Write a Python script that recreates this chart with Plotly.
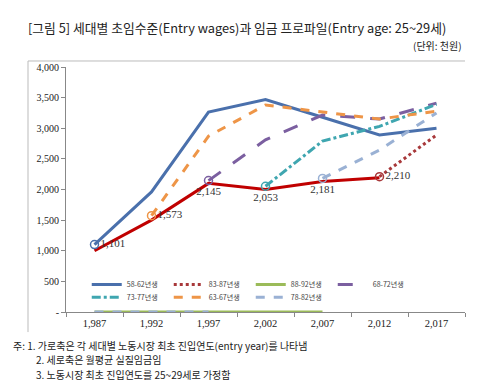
import plotly.graph_objects as go

years = ["1,987", "1,992", "1,997", "2,002", "2,007", "2,012", "2,017"]

s58_62 = [1101, 1960, 3265, 3470, 3180, 2890, 3000]
s63_67 = [None, 1573, 2870, 3380, 3260, 3150, 3280]
s68_72 = [None, None, 2145, 2810, 3215, 3150, 3410]
s73_77 = [None, None, None, 2053, 2790, 3030, 3390]
s78_82 = [0, 0, 0, None, 2181, 2645, 3250]
s83_87 = [None, None, None, None, None, 2210, 2890]
s88_92 = [0, 0, 0, 0, 0, None, None]
entry = [1000, 1500, 2100, 2000, 2130, 2190, None]

ytick_vals = [0, 500, 1000, 1500, 2000, 2500, 3000, 3500, 4000]
ytick_text = ["-", "500", "1,000", "1,500", "2,000", "2,500", "3,000", "3,500", "4,000"]

series = [
    # name, data, color, dash, legend, rank, first index, label position
    ("58-62년생", s58_62, "#4A70AC", "solid", "legend", 1, 0, "middle right"),
    ("83-87년생", s83_87, "#A8383A", "dot", "legend", 2, 5, "middle right"),
    ("88-92년생", s88_92, "#9BBB59", "solid", "legend", 3, None, None),
    ("68-72년생", s68_72, "#7B5FA0", "longdash", "legend", 4, 2, "bottom center"),
    ("73-77년생", s73_77, "#3FA6B0", "dashdot", "legend2", 5, 3, "bottom center"),
    ("63-67년생", s63_67, "#EE9547", "dash", "legend2", 6, 1, "middle right"),
    ("78-82년생", s78_82, "#9AB1D4", "dash", "legend2", 7, 4, "bottom center"),
]

fig = go.Figure()

# entry wages line (red)
fig.add_trace(go.Scatter(x=years, y=entry, mode="lines", line=dict(color="#C00000", width=3),
                         showlegend=False, hoverinfo="skip"))

for name, data, color, dash, lg, rank, first, pos in series:
    fig.add_trace(go.Scatter(x=years, y=data, mode="lines", name=name, legendrank=rank, legend=lg,
                             line=dict(color=color, width=3, dash=dash), connectgaps=False))

for name, data, color, dash, lg, rank, first, pos in series:
    if first is None:
        continue
    v = data[first]
    fig.add_trace(go.Scatter(x=[years[first]], y=[v], mode="markers+text",
                             text=[f"{v:,}"], textposition=pos,
                             textfont=dict(family="Liberation Serif", size=11, color="#333333"),
                             marker=dict(symbol="circle-open", size=8, color=color, line=dict(width=1.5)),
                             showlegend=False, hoverinfo="skip"))

leg_common = dict(orientation="h", xanchor="left", yanchor="top",
                  entrywidth=37, entrywidthmode="pixels", traceorder="normal",
                  font=dict(family="Noto Sans CJK KR", size=7, color="#444444"),
                  bgcolor="rgba(0,0,0,0)", itemwidth=30)

W, H = 492, 376  # page body adds an 8px offset

fig.update_layout(
    width=W, height=H,
    margin=dict(l=58, r=35, t=59, b=72),
    paper_bgcolor="white", plot_bgcolor="white",
    showlegend=True,
    title=dict(text="[그림 5] 세대별 초임수준(Entry wages)과 임금 프로파일(Entry age: 25~29세)",
               xref="container", yref="container", x=20 / W, y=1 - 20.5 / H,
               xanchor="left", yanchor="middle",
               font=dict(family="Noto Sans CJK KR", size=12.8, color="#222222")),
    legend=dict(x=0.052, y=0.171, **leg_common),
    legend2=dict(x=0.052, y=0.119, **leg_common),
    xaxis=dict(type="category", range=[-0.5, 6.5], tickson="boundaries", ticks="outside",
               ticklen=4, tickcolor="#888888", showline=True, linecolor="#888888", linewidth=1,
               showgrid=False, ticklabelstandoff=1,
               tickfont=dict(family="Liberation Serif", size=10.5, color="#222222")),
    yaxis=dict(range=[0, 4000], tickvals=ytick_vals, ticktext=ytick_text, ticks="outside",
               ticklen=4, tickcolor="#888888", showline=True, linecolor="#888888", linewidth=1,
               showgrid=False, zeroline=False,
               tickfont=dict(family="Liberation Serif", size=10, color="#222222")),
)

# chart frame lines (left and top)
fig.add_shape(type="line", xref="paper", yref="paper", x0=-0.0952, x1=1.0, y0=1.0245, y1=1.0245,
              line=dict(color="#BBBBBB", width=1))
fig.add_shape(type="line", xref="paper", yref="paper", x0=-0.0952, x1=-0.0952, y0=1.0245, y1=-0.082,
              line=dict(color="#BBBBBB", width=1))

fig.add_annotation(text="(단위: 천원)", xref="paper", yref="paper", x=0.995, y=1.0878,
                   xanchor="right", yanchor="middle", showarrow=False, borderpad=0,
                   font=dict(family="Noto Sans CJK KR", size=10, color="#222222"))

notes = [
    ("주: 1. 가로축은 각 세대별 노동시장 최초 진입연도(entry year)를 나타냄", 12, 345),
    ("2. 세로축은 월평균 실질임금임", 35, 359.5),
    ("3. 노동시장 최초 진입연도를 25~29세로 가정함", 35, 374),
]
for t, px, py in notes:
    fig.add_annotation(text=t, xref="paper", yref="paper", x=(px - 66) / 399, y=(312 - py) / 245,
                       xanchor="left", yanchor="middle", showarrow=False, borderpad=0,
                       font=dict(family="Noto Sans CJK KR", size=10, color="#222222"))

fig.write_html("out.html")
